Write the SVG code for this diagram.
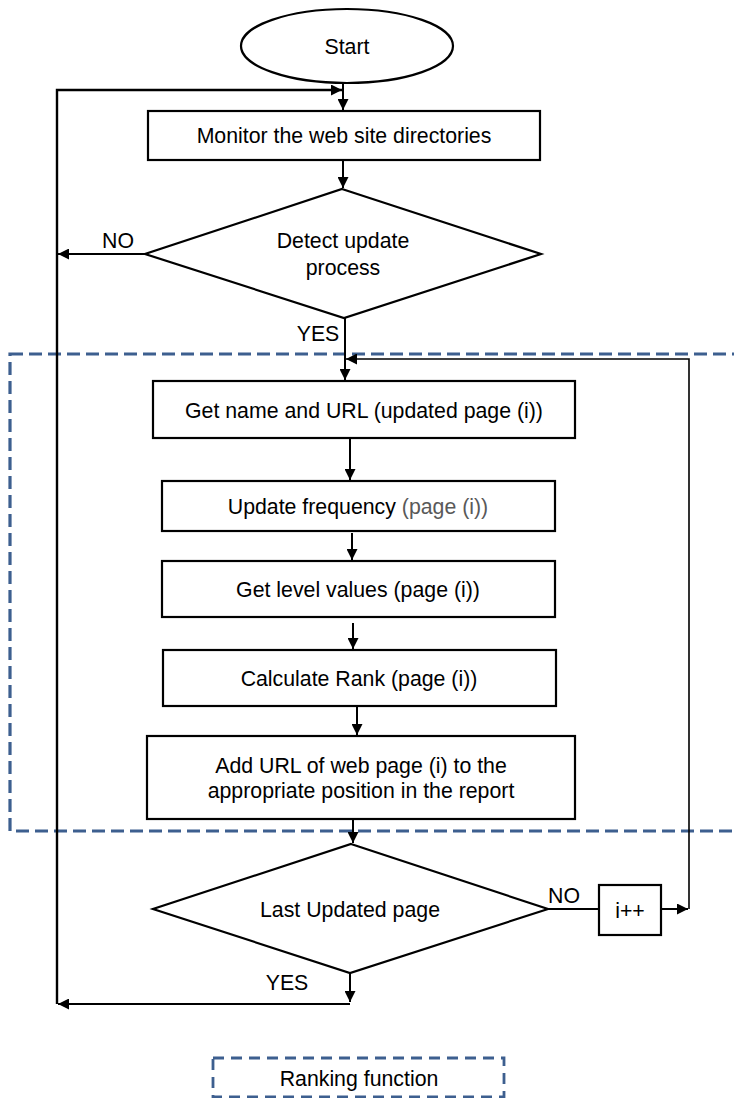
<svg xmlns="http://www.w3.org/2000/svg" width="734" height="1098" viewBox="0 0 734 1098">
<style>
text{font-family:"Liberation Sans",Arial,sans-serif;font-size:21.3px;fill:#000;text-anchor:middle}
.box{fill:#fff;stroke:#000;stroke-width:2.2}
.ln{fill:none;stroke:#000;stroke-width:2}
.dash{fill:none;stroke:#3d5f8f;stroke-width:3.2;stroke-dasharray:13 6}
.gray{fill:#595959}
</style>
<defs>
<marker id="ah" viewBox="0 0 10 10" refX="10" refY="5" markerWidth="11" markerHeight="11" markerUnits="userSpaceOnUse" orient="auto">
<path d="M0,0 L10,5 L0,10 z" fill="#000"/>
</marker>
</defs>
<rect class="dash" x="10" y="354" width="740" height="477"/>
<g id="connectors">
<path class="ln" d="M57,1004 V90 H342" style="stroke-width:2.4" marker-end="url(#ah)"/>
<path class="ln" d="M343,83 V110" marker-end="url(#ah)"/>
<path class="ln" d="M343,160 V188" marker-end="url(#ah)"/>
<path class="ln" d="M145,254 H58" marker-end="url(#ah)"/>
<path class="ln" d="M345,318 V380" marker-end="url(#ah)"/>
<path class="ln" d="M350,438 V480" marker-end="url(#ah)"/>
<path class="ln" d="M352,533 V560" marker-end="url(#ah)"/>
<path class="ln" d="M353,623 V649" marker-end="url(#ah)"/>
<path class="ln" d="M357,706 V735" marker-end="url(#ah)"/>
<path class="ln" d="M353,819 V843" marker-end="url(#ah)"/>
<path class="ln" d="M548,909 H599"/>
<path class="ln" d="M661,909 H688" marker-end="url(#ah)"/>
<path class="ln" d="M689,909 V359 H346" style="stroke-width:1.6" marker-end="url(#ah)"/>
<path class="ln" d="M350,973 V1002" marker-end="url(#ah)"/>
<path class="ln" d="M350,1004 H58" marker-end="url(#ah)"/>
<text x="118" y="248">NO</text>
<text x="318" y="341">YES</text>
<text x="564" y="903">NO</text>
<text x="287" y="990">YES</text>
</g>
<g id="start">
<ellipse class="box" cx="347" cy="46" rx="106" ry="37"/>
<text x="347" y="54">Start</text>
</g>
<g id="monitor">
<rect class="box" x="148" y="111" width="392" height="49"/>
<text x="344" y="143">Monitor the web site directories</text>
</g>
<g id="detect">
<polygon class="box" points="342,189 541,254 344,318 145,254"/>
<text x="343" y="248">Detect update</text>
<text x="343" y="275">process</text>
</g>
<g id="getname">
<rect class="box" x="153" y="381" width="422" height="57"/>
<text x="364" y="418">Get name and URL (updated page (i))</text>
</g>
<g id="updatefreq">
<rect class="box" x="162" y="481" width="393" height="50"/>
<text x="358" y="514">Update frequency <tspan class="gray">(page (i))</tspan></text>
</g>
<g id="getlevel">
<rect class="box" x="162" y="561" width="393" height="56"/>
<text x="358" y="597">Get level values (page (i))</text>
</g>
<g id="calcrank">
<rect class="box" x="163" y="650" width="393" height="56"/>
<text x="359" y="686">Calculate Rank (page (i))</text>
</g>
<g id="addurl">
<rect class="box" x="147" y="736" width="428" height="83"/>
<text x="361" y="773">Add URL of web page (i) to the</text>
<text x="361" y="798">appropriate position in the report</text>
</g>
<g id="lastupdated">
<polygon class="box" points="351,844 548,909 350,973 153,909"/>
<text x="350" y="917">Last Updated page</text>
</g>
<g id="inc">
<rect class="box" x="599" y="885" width="62" height="50"/>
<text x="630" y="918">i++</text>
</g>
<g id="legend">
<rect x="213" y="1058" width="291" height="39" style="fill:none;stroke:#3d5f8f;stroke-width:2.8;stroke-dasharray:11 7"/>
<text x="359" y="1086">Ranking function</text>
</g>
</svg>
